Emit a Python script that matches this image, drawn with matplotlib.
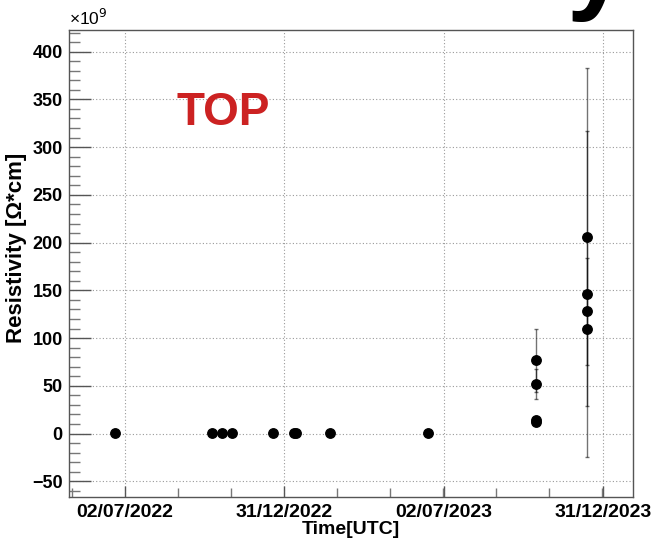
import matplotlib
matplotlib.use("Agg")
import matplotlib.pyplot as plt
import matplotlib.dates as mdates
import matplotlib.ticker as mticker
import numpy as np
import pandas as pd

# measurement dates and resistivity (units of 1e9 Ohm*cm)
dates = ["2022-06-21", "2022-10-09", "2022-10-21", "2022-11-01", "2022-12-18",
         "2023-01-11", "2023-01-14", "2023-02-22", "2023-06-13",
         "2023-10-15", "2023-10-15", "2023-10-15", "2023-10-15",
         "2023-12-12", "2023-12-12", "2023-12-12", "2023-12-12"]
resistivity = [0.2, 0.3, 0.2, 0.3, 0.2,
               0.3, 0.2, 0.3, 0.2,
               77, 52, 14, 12,
               206, 146, 128, 110]
errors = [0.1, 0.1, 0.1, 0.1, 0.1,
          0.1, 0.1, 0.1, 0.1,
          33, 16, 2, 2,
          177, 171, 56, 3]

tick_dates = ["2022-07-02", "2022-12-31", "2023-07-02", "2023-12-31"]
tick_labels = ["02/07/2022", "31/12/2022", "02/07/2023", "31/12/2023"]

plt.rcParams['font.family'] = ['Liberation Sans', 'DejaVu Sans']

x = mdates.date2num(pd.to_datetime(dates))
xt = mdates.date2num(pd.to_datetime(tick_dates))

fig = plt.figure(figsize=(6.51, 5.39), dpi=100)
ax = fig.add_axes([69 / 651, 1 - 497.3 / 539, (633 - 69) / 651, (497.3 - 30) / 539])

ax.errorbar(x, resistivity, yerr=errors, fmt='none', ecolor='black', elinewidth=1.0,
            capsize=1.2, capthick=1.0, alpha=0.55, zorder=2)
ax.plot(x, resistivity, 'o', color='black', markersize=6.8, zorder=3)

ax.set_xticks(xt)
ax.set_xticklabels(tick_labels, fontsize=14, fontweight='bold')
minor = []
step = (xt[1] - xt[0]) / 3
for k in range(-1, 3 * (len(xt) - 1) + 1):
    minor.append(xt[0] + k * step)
ax.set_xticks(minor, minor=True)

# limits after ticks so the ticks don't stretch the view
ax.set_xlim(mdates.date2num(pd.Timestamp("2022-04-29")), mdates.date2num(pd.Timestamp("2024-02-03")))
ax.set_ylim(-66.8, 422.7)

ax.yaxis.set_major_locator(mticker.MultipleLocator(50))
ax.yaxis.set_minor_locator(mticker.MultipleLocator(10))
for lab in ax.get_yticklabels():
    lab.set_fontweight('bold')
ax.tick_params(axis='y', labelsize=13, direction='in', length=16, width=1,
               color='#555555', pad=4.5, right=False)
ax.tick_params(axis='y', which='minor', direction='in', length=8, width=1, color='#777777', right=False)
ax.tick_params(axis='x', direction='in', length=8, width=1, color='#555555', pad=5, top=False)
ax.tick_params(axis='x', which='minor', direction='in', length=6.5, width=1, color='#777777', top=False)

ax.grid(True, which='major', linestyle=(0, (1, 2)), color='#999999', linewidth=0.8)
for s in ax.spines.values():
    s.set_color('#555555')
    s.set_linewidth(1)

ax.set_xlabel("Time[UTC]", fontsize=14, fontweight='bold', labelpad=0)
ax.set_ylabel("Resistivity [Ω*cm]", fontsize=16, fontweight='bold')
ax.yaxis.set_label_coords(-0.075, 0.533)

fig.text(69 / 651, 1 - 28 / 539, "×10$^{9}$", fontsize=12.5, ha='left', va='bottom')
ax.text(0.19, 0.775, "TOP", transform=ax.transAxes, color='#cc2222', fontsize=33,
        fontweight='bold', ha='left', va='bottom')
fig.text(0.916, 1.0, "y", fontsize=78, fontweight='bold', color='black', ha='center', va='baseline')

fig.savefig("out.png", dpi=100)
